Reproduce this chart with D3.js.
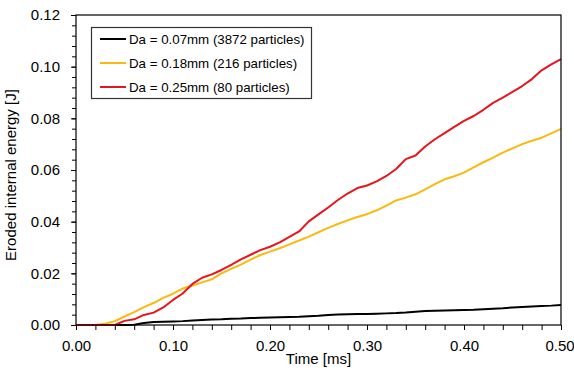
<!DOCTYPE html>
<html>
<head>
<meta charset="utf-8">
<script src="https://cdn.jsdelivr.net/npm/d3@7"></script>
<style>
  html, body { margin: 0; padding: 0; background: #fff; }
  svg { display: block; font-family: Arial, "Liberation Sans", sans-serif; }
</style>
</head>
<body>
<svg id="chart" width="574" height="376"></svg>
<script>
const time = [0.00,0.01,0.02,0.03,0.04,0.05,0.06,0.07,0.08,0.09,0.10,0.11,0.12,0.13,0.14,0.15,0.16,0.17,0.18,0.19,0.20,0.21,0.22,0.23,0.24,0.25,0.26,0.27,0.28,0.29,0.30,0.31,0.32,0.33,0.34,0.35,0.36,0.37,0.38,0.39,0.40,0.41,0.42,0.43,0.44,0.45,0.46,0.47,0.48,0.49,0.50];

const da007 = [0,0,0,0,0,0,0.0001,0.0008,0.0012,0.0013,0.0014,0.0015,0.0017,0.0019,0.0021,0.0022,0.0024,0.0025,0.0027,0.0028,0.0029,0.0030,0.0031,0.0032,0.0034,0.0036,0.0039,0.0041,0.0042,0.0043,0.0043,0.0044,0.0045,0.0046,0.0048,0.0051,0.0054,0.0055,0.0056,0.0057,0.0058,0.0059,0.0061,0.0063,0.0065,0.0068,0.0070,0.0072,0.0074,0.0075,0.0077];

const da018 = [0,0,0,0.0005,0.0015,0.0033,0.0050,0.0069,0.0085,0.0105,0.0121,0.0141,0.0153,0.0165,0.0177,0.0200,0.0217,0.0234,0.0253,0.0271,0.0284,0.0297,0.0312,0.0327,0.0342,0.0359,0.0376,0.0391,0.0405,0.0418,0.0429,0.0444,0.0462,0.0482,0.0493,0.0506,0.0525,0.0545,0.0564,0.0576,0.0590,0.0610,0.0630,0.0648,0.0667,0.0684,0.0700,0.0713,0.0725,0.0742,0.0759];

const da025 = [0,0,0,0,0,0.0016,0.0022,0.0039,0.0048,0.0068,0.0097,0.0122,0.0159,0.0183,0.0196,0.0213,0.0233,0.0254,0.0272,0.0290,0.0303,0.0320,0.0341,0.0362,0.0401,0.0428,0.0455,0.0484,0.0509,0.0530,0.0540,0.0556,0.0577,0.0604,0.0642,0.0656,0.0691,0.0719,0.0743,0.0767,0.0790,0.0809,0.0833,0.0860,0.0880,0.0902,0.0925,0.0952,0.0986,0.1009,0.1029];

const seriesNames = ["Da = 0.07mm (3872 particles)", "Da = 0.18mm (216 particles)", "Da = 0.25mm (80 particles)"];
const seriesColors = ["#000000", "#F9B90F", "#E8141B"];
const xTicks = [0.00, 0.10, 0.20, 0.30, 0.40, 0.50];
const yTicks = [0.00, 0.02, 0.04, 0.06, 0.08, 0.10, 0.12];
const xTitle = "Time [ms]";
const yTitle = "Eroded internal energy [J]";

const series = [da007, da018, da025];

const svg = d3.select("#chart");
const m = { left: 76, right: 561, top: 15, bottom: 325 };

const x = d3.scaleLinear().domain([0, 0.5]).range([m.left, m.right]);
const y = d3.scaleLinear().domain([0, 0.12]).range([m.bottom, m.top]);

// minor ticks
const xMinor = d3.range(0, 0.5001, 0.02);
const yMinor = d3.range(0, 0.12001, 0.004);

svg.append("g")
  .attr("transform", `translate(0,${m.bottom})`)
  .call(d3.axisBottom(x).tickValues(xMinor).tickSize(5).tickFormat(""))
  .call(g => g.select(".domain").remove())
  .selectAll("line").attr("stroke", "#000");

svg.append("g")
  .attr("transform", `translate(${m.left},0)`)
  .call(d3.axisLeft(y).tickValues(yMinor).tickSize(4).tickFormat(""))
  .call(g => g.select(".domain").remove())
  .selectAll("line").attr("stroke", "#000");

// major axes with labels
const gx = svg.append("g")
  .attr("transform", `translate(0,${m.bottom})`)
  .call(d3.axisBottom(x).tickValues(xTicks).tickSize(5).tickSizeOuter(0).tickPadding(10).tickFormat(d3.format(".2f")));
gx.select(".domain").remove();
gx.selectAll("text").attr("font-size", 15).attr("font-family", "Arial, 'Liberation Sans', sans-serif").attr("fill", "#000")
  .attr("dx", d => d === 0.5 ? -1.5 : 0);
gx.selectAll("line").attr("stroke", "#000");

const gy = svg.append("g")
  .attr("transform", `translate(${m.left},0)`)
  .call(d3.axisLeft(y).tickValues(yTicks).tickSize(5).tickSizeOuter(0).tickPadding(11).tickFormat(d3.format(".2f")));
gy.select(".domain").remove();
gy.selectAll("text").attr("font-size", 15).attr("font-family", "Arial, 'Liberation Sans', sans-serif").attr("fill", "#000");
gy.selectAll("line").attr("stroke", "#000");

// lines
const line = d3.line().x((d, i) => x(time[i])).y(d => y(d));
series.forEach((s, i) => {
  svg.append("path")
    .datum(s)
    .attr("fill", "none")
    .attr("stroke", seriesColors[i])
    .attr("stroke-width", 2)
    .attr("stroke-linejoin", "round")
    .attr("d", line);
});

// frame
svg.append("rect")
  .attr("x", m.left).attr("y", m.top)
  .attr("width", m.right - m.left).attr("height", m.bottom - m.top)
  .attr("fill", "none").attr("stroke", "#000").attr("stroke-width", 1.2);

// axis titles
svg.append("text")
  .attr("x", (m.left + m.right) / 2).attr("y", 364)
  .attr("text-anchor", "middle").attr("font-size", 15).attr("fill", "#000")
  .text(xTitle);

svg.append("text")
  .attr("transform", `translate(16,175) rotate(-90)`)
  .attr("text-anchor", "middle").attr("font-size", 15).attr("fill", "#000")
  .text(yTitle);

// legend
const lg = svg.append("g");
lg.append("rect")
  .attr("x", 91.5).attr("y", 27.5).attr("width", 220).attr("height", 71)
  .attr("fill", "#fff").attr("stroke", "#333").attr("stroke-width", 1.2);
seriesNames.forEach((n, i) => {
  const yy = 39 + i * 24;
  lg.append("line")
    .attr("x1", 100).attr("x2", 126).attr("y1", yy).attr("y2", yy)
    .attr("stroke", seriesColors[i]).attr("stroke-width", 2);
  lg.append("text")
    .attr("x", 129).attr("y", yy).attr("dy", "0.35em")
    .attr("font-size", 13.3).attr("fill", "#000")
    .text(n);
});
</script>
</body>
</html>
